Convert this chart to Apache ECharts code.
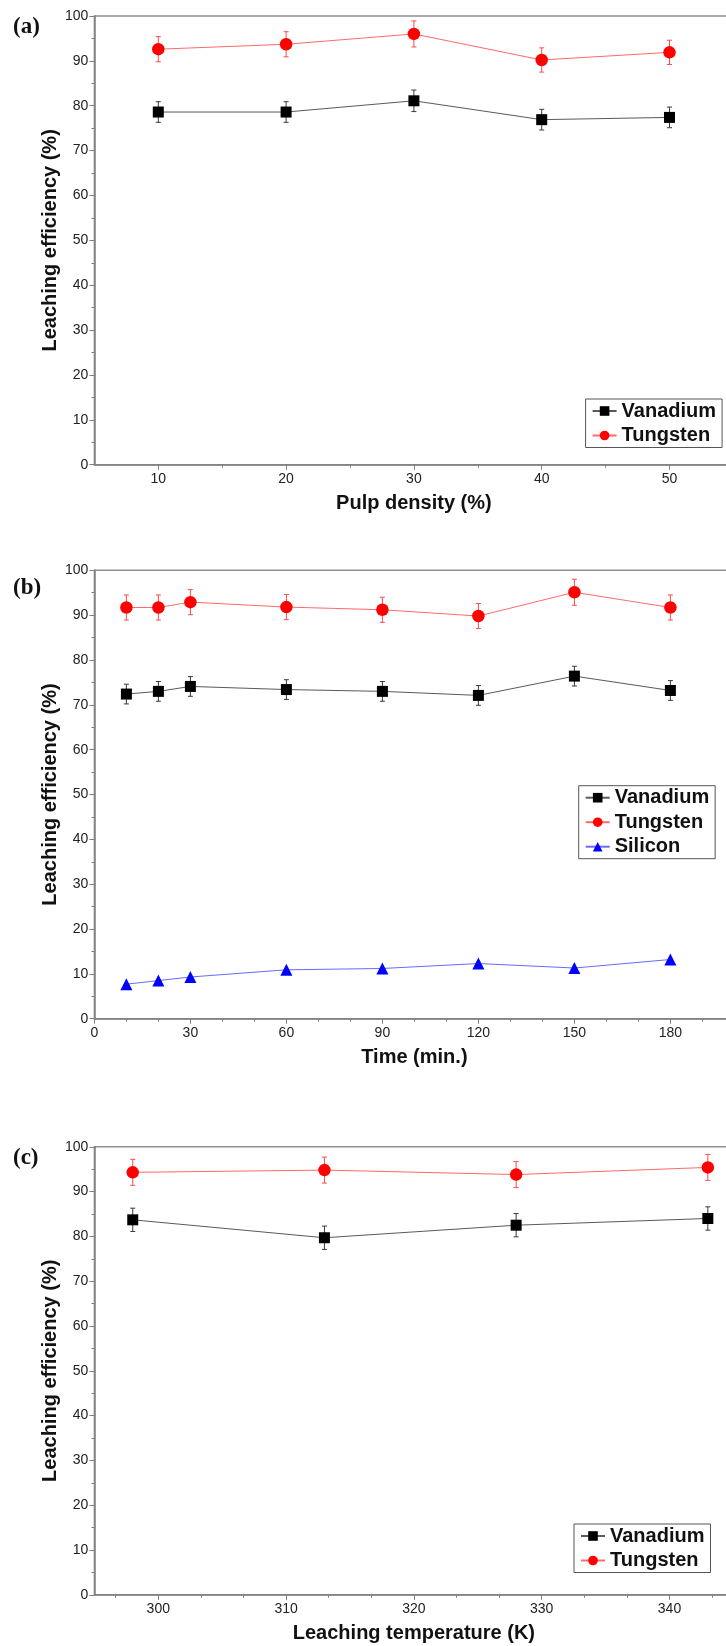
<!DOCTYPE html>
<html>
<head>
<meta charset="utf-8">
<script src="https://cdn.jsdelivr.net/npm/echarts@6/dist/echarts.min.js"></script>
<style>
html,body{margin:0;padding:0;background:#fff;}
#chart{width:726px;height:1646px;}
</style>
</head>
<body>
<div id="chart"></div>
<script>
// ---------- Data ----------
// Panel (a): pulp density
const pulpDensity = [10, 20, 30, 40, 50];
const vanadiumA = [78.6, 78.6, 81.1, 76.9, 77.4];
const vanadiumErrA = [2.3, 2.3, 2.4, 2.3, 2.3];
const tungstenA = [92.6, 93.7, 96.0, 90.2, 91.9];
const tungstenErrA = [2.8, 2.8, 2.9, 2.7, 2.7];

// Panel (b): time
const timeMin = [10, 20, 30, 60, 90, 120, 150, 180];
const vanadiumB = [72.4, 73.0, 74.1, 73.4, 73.0, 72.1, 76.4, 73.2];
const vanadiumErrB = [2.2, 2.2, 2.2, 2.2, 2.2, 2.2, 2.2, 2.2];
const tungstenB = [91.7, 91.7, 92.9, 91.8, 91.2, 89.8, 95.1, 91.7];
const tungstenErrB = [2.8, 2.8, 2.8, 2.8, 2.8, 2.8, 2.9, 2.8];
const siliconB = [7.7, 8.5, 9.3, 10.9, 11.2, 12.3, 11.3, 13.2];

// Panel (c): temperature
const temperatureK = [298, 313, 328, 343];
const vanadiumC = [83.7, 79.7, 82.5, 84.0];
const vanadiumErrC = [2.6, 2.6, 2.6, 2.6];
const tungstenC = [94.3, 94.8, 93.8, 95.4];
const tungstenErrC = [2.9, 2.9, 2.9, 2.9];

// Tick labels
const xTicksA = [10, 20, 30, 40, 50];
const xMinorA = [15, 25, 35, 45];
const xTicksB = [0, 30, 60, 90, 120, 150, 180];
const xMinorB = [10, 20, 40, 50, 70, 80, 100, 110, 130, 140, 160, 170, 190];
const xTicksC = [300, 310, 320, 330, 340];
const xMinorC = [296.67, 303.33, 306.67, 313.33, 316.67, 323.33, 326.67, 333.33, 336.67, 343.33];

const panelLabels = ['(a)', '(b)', '(c)'];
const xTitles = ['Pulp density (%)', 'Time (min.)', 'Leaching temperature (K)'];
const yTitle = 'Leaching efficiency (%)';

// ---------- Styles ----------
const SANS = "'Liberation Sans', Arial, Helvetica, sans-serif";
const SERIF = "'Liberation Serif', 'Times New Roman', serif";
const AXIS_COLOR = '#808080';
const RED = '#ff0000', RED_LINE = '#ff6a6a', RED_ERR = '#ff4a4a';
const BLACK = '#000000', BLACK_LINE = '#5a5a5a', BLACK_ERR = '#3a3a3a';
const BLUE = '#0000ff', BLUE_LINE = '#6a6aff';

const grids = [
  {left: 94.4, top: 16, width: 639, height: 448.7},
  {left: 94.4, top: 570.3, width: 640, height: 448.4},
  {left: 94.4, top: 1146.8, width: 639, height: 448}
];
const xRanges = [[5, 55], [0, 200], [295, 345]];
const xTickSets = [xTicksA, xTicksB, xTicksC];
const xMinorSets = [xMinorA, xMinorB, xMinorC];

function zip(xs, ys) { return xs.map((x, i) => [x, ys[i]]); }
function zip3(xs, ys, es) { return xs.map((x, i) => [x, ys[i], es[i]]); }

function errRender(color) {
  return function (params, api) {
    const x = api.value(0), y = api.value(1), e = api.value(2);
    const hi = api.coord([x, y + e]);
    const lo = api.coord([x, y - e]);
    const w = 2.5;
    const st = {stroke: color, lineWidth: 1};
    return {
      type: 'group',
      children: [
        {type: 'line', shape: {x1: hi[0], y1: hi[1], x2: lo[0], y2: lo[1]}, style: st},
        {type: 'line', shape: {x1: hi[0] - w, y1: hi[1], x2: hi[0] + w, y2: hi[1]}, style: st},
        {type: 'line', shape: {x1: lo[0] - w, y1: lo[1], x2: lo[0] + w, y2: lo[1]}, style: st}
      ]
    };
  };
}

const xAxes = [], yAxes = [];
grids.forEach((g, i) => {
  xAxes.push({
    type: 'value', gridIndex: i, position: 'bottom',
    min: xRanges[i][0], max: xRanges[i][1],
    name: xTitles[i], nameLocation: 'middle', nameGap: 29, nameMoveOverlap: false,
    nameTextStyle: {fontFamily: SANS, fontWeight: 'bold', fontSize: 20, color: '#111'},
    axisLine: {show: true, onZero: false, lineStyle: {color: AXIS_COLOR, width: 1.5}},
    axisTick: {show: true, length: 5, customValues: xTickSets[i], lineStyle: {color: AXIS_COLOR, width: 1}},
    axisLabel: {show: true, customValues: xTickSets[i], margin: 7, fontFamily: SANS, fontSize: 14, color: '#222'},
    splitLine: {show: false}
  });
  xAxes.push({
    type: 'value', gridIndex: i, position: 'bottom',
    min: xRanges[i][0], max: xRanges[i][1],
    axisLine: {show: false},
    axisTick: {show: true, length: 3, customValues: xMinorSets[i], lineStyle: {color: AXIS_COLOR, width: 1}},
    axisLabel: {show: false},
    splitLine: {show: false}
  });
  yAxes.push({
    type: 'value', gridIndex: i, min: 0, max: 100, interval: 10,
    name: yTitle, nameLocation: 'middle', nameGap: 34, nameRotate: 90, nameMoveOverlap: false,
    nameTextStyle: {fontFamily: SANS, fontWeight: 'bold', fontSize: 20, color: '#111'},
    axisLine: {show: true, onZero: false, lineStyle: {color: AXIS_COLOR, width: 1.5}},
    axisTick: {show: true, length: 5, lineStyle: {color: AXIS_COLOR, width: 1}},
    minorTick: {show: true, splitNumber: 2, length: 3, lineStyle: {color: AXIS_COLOR, width: 1}},
    axisLabel: {margin: 6, fontFamily: SANS, fontSize: 14, color: '#222'},
    splitLine: {show: false}
  });
});

function lineSeries(name, gi, xs, ys, symbol, size, mColor, lColor) {
  return {
    type: 'line', name: name, xAxisIndex: gi * 2, yAxisIndex: gi,
    data: zip(xs, ys), symbol: symbol, symbolSize: size, showSymbol: true,
    itemStyle: {color: mColor, borderWidth: 0},
    lineStyle: {color: lColor, width: 1},
    z: 5, animation: false, clip: false
  };
}
function errSeries(name, gi, xs, ys, es, color) {
  return {
    type: 'custom', name: name, xAxisIndex: gi * 2, yAxisIndex: gi,
    data: zip3(xs, ys, es), encode: {x: 0, y: 1},
    renderItem: errRender(color), z: 3, animation: false, silent: true
  };
}

const series = [
  errSeries('errVa', 0, pulpDensity, vanadiumA, vanadiumErrA, BLACK_ERR),
  errSeries('errTa', 0, pulpDensity, tungstenA, tungstenErrA, RED_ERR),
  lineSeries('Vanadium', 0, pulpDensity, vanadiumA, 'rect', 11, BLACK, BLACK_LINE),
  lineSeries('Tungsten', 0, pulpDensity, tungstenA, 'circle', 12.5, RED, RED_LINE),

  errSeries('errVb', 1, timeMin, vanadiumB, vanadiumErrB, BLACK_ERR),
  errSeries('errTb', 1, timeMin, tungstenB, tungstenErrB, RED_ERR),
  lineSeries('Vanadium', 1, timeMin, vanadiumB, 'rect', 11, BLACK, BLACK_LINE),
  lineSeries('Tungsten', 1, timeMin, tungstenB, 'circle', 12.5, RED, RED_LINE),
  lineSeries('Silicon', 1, timeMin, siliconB, 'triangle', 12, BLUE, BLUE_LINE),

  errSeries('errVc', 2, temperatureK, vanadiumC, vanadiumErrC, BLACK_ERR),
  errSeries('errTc', 2, temperatureK, tungstenC, tungstenErrC, RED_ERR),
  lineSeries('Vanadium', 2, temperatureK, vanadiumC, 'rect', 11, BLACK, BLACK_LINE),
  lineSeries('Tungsten', 2, temperatureK, tungstenC, 'circle', 12.5, RED, RED_LINE)
];

function legendAt(left, top, names) {
  return {
    orient: 'vertical', left: left, top: top, data: names,
    itemWidth: 24, itemHeight: 12, itemGap: 4.5,
    padding: [2, 6, 2, 6],
    borderColor: '#555', borderWidth: 1, backgroundColor: '#fff',
    selectedMode: false,
    textStyle: {fontFamily: SANS, fontWeight: 'bold', fontSize: 20, lineHeight: 20, color: '#111'}
  };
}

const option = {
  animation: false,
  backgroundColor: '#fff',
  grid: grids.map(g => Object.assign({show: true, borderColor: '#909090', borderWidth: 1.5,
    backgroundColor: 'transparent', containLabel: false, outerBoundsMode: 'none'}, g)),
  xAxis: xAxes,
  yAxis: yAxes,
  legend: [
    legendAt(585.6, 399, ['Vanadium', 'Tungsten']),
    legendAt(578.7, 785.7, ['Vanadium', 'Tungsten', 'Silicon']),
    legendAt(574, 1524, ['Vanadium', 'Tungsten'])
  ],
  graphic: [
    {type: 'text', left: 13, top: 16, style: {text: panelLabels[0], font: "bold 23px " + SERIF, fill: '#111'}},
    {type: 'text', left: 13, top: 577, style: {text: panelLabels[1], font: "bold 23px " + SERIF, fill: '#111'}},
    {type: 'text', left: 13, top: 1147, style: {text: panelLabels[2], font: "bold 23px " + SERIF, fill: '#111'}}
  ],
  series: series
};

const chart = echarts.init(document.getElementById('chart'), null, {renderer: 'canvas'});
chart.setOption(option);
</script>
</body>
</html>
